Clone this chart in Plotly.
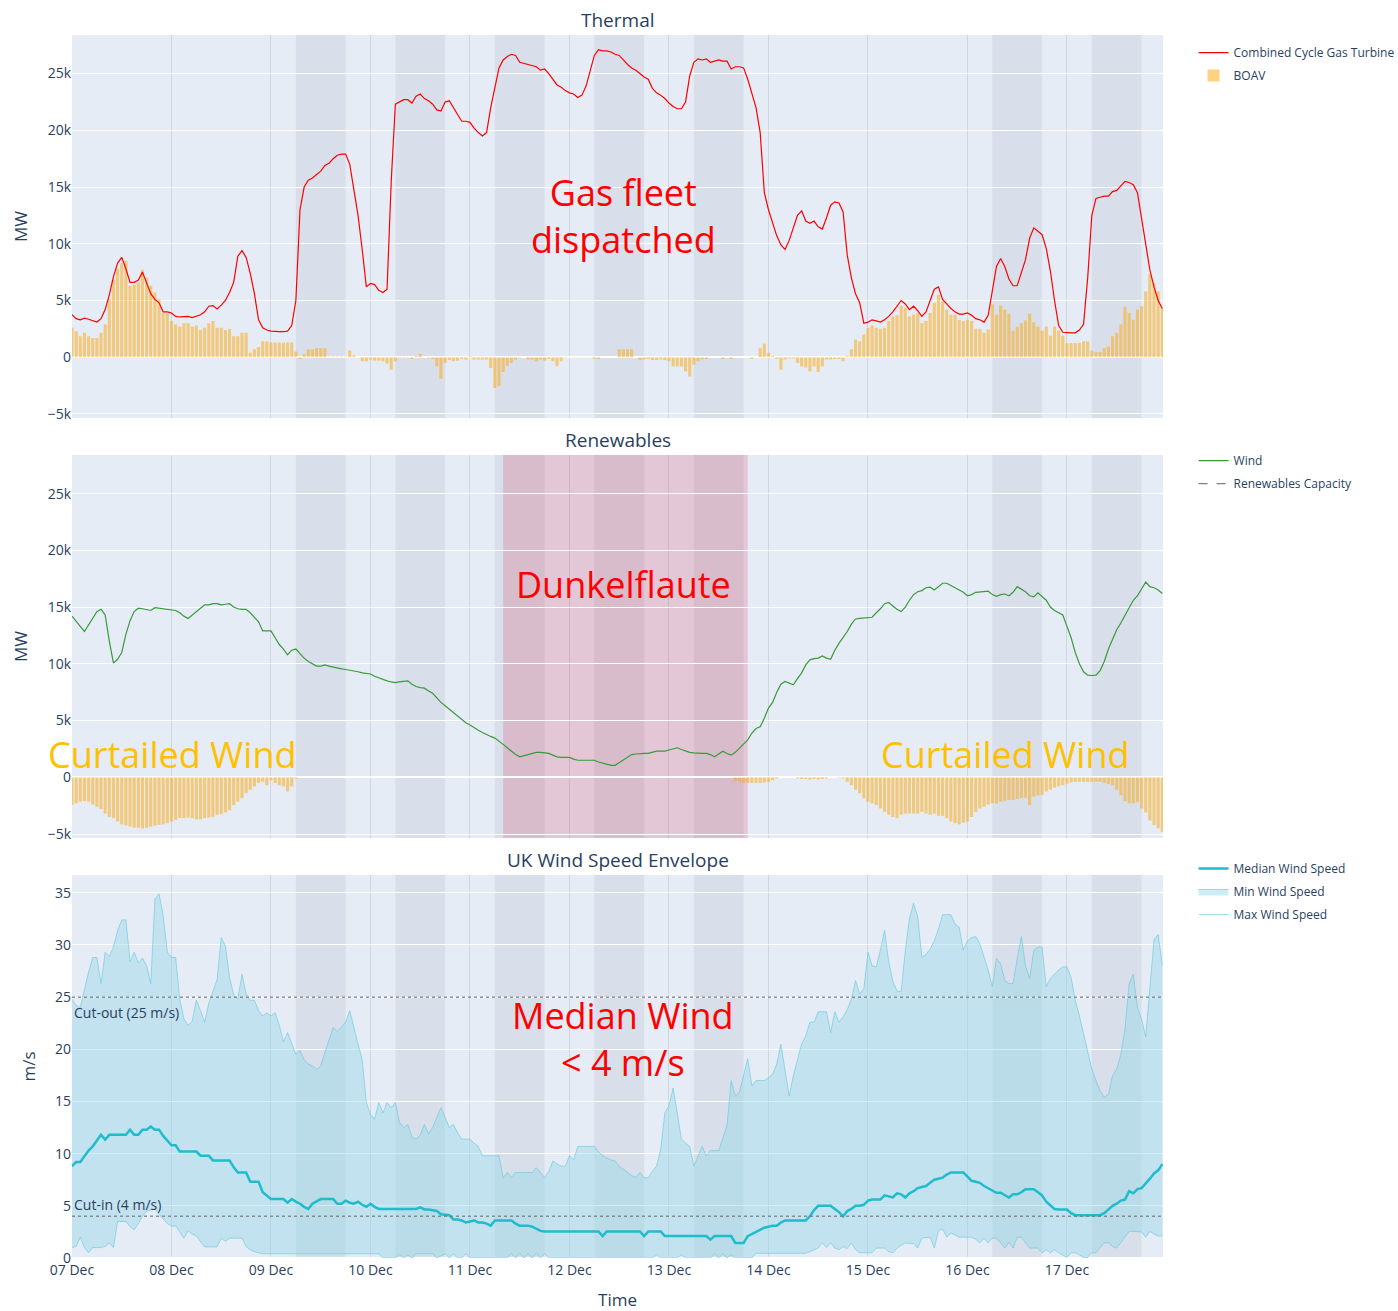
import pandas as pd
import plotly.graph_objects as go
from plotly.subplots import make_subplots

# hourly timestamps 07 Dec 00:00 .. 17 Dec 23:00 (264 points)
times = pd.date_range("2024-12-07 00:00", periods=264, freq="h")

# Combined Cycle Gas Turbine output (thousand MW)
ccgt_k = [
    3.76, 3.4, 3.3, 3.45, 3.35, 3.2, 3.1, 3.4, 4.2, 5.5,
    7.1, 8.3, 8.8, 7.8, 6.6, 6.6, 6.8, 7.5, 6.6, 5.6,
    5.1, 4.8, 4.0, 4.0, 3.9, 3.6, 3.55, 3.6, 3.6, 3.5,
    3.6, 3.75, 4.0, 4.5, 4.55, 4.25, 4.6, 5.0, 5.7, 6.6,
    8.9, 9.4, 8.8, 7.4, 5.6, 3.3, 2.6, 2.4, 2.3, 2.25,
    2.25, 2.25, 2.3, 2.8, 5.0, 13.0, 15.0, 15.6, 15.8, 16.1,
    16.4, 16.9, 17.1, 17.5, 17.8, 17.9, 17.9, 17.0, 14.9, 12.5,
    9.5, 6.2, 6.5, 6.4, 5.9, 5.7, 6.0, 15.5, 22.3, 22.5,
    22.7, 22.7, 22.4, 23.0, 23.2, 22.8, 22.6, 22.3, 21.8, 21.7,
    22.5, 22.6, 22.0, 21.5, 20.8, 20.8, 20.7, 20.2, 19.8, 19.5,
    19.8, 22.0, 23.9, 25.5, 26.2, 26.5, 26.7, 26.6, 26.0, 25.9,
    25.8, 25.7, 25.6, 25.3, 25.4, 25.0, 24.5, 24.0, 23.8, 23.5,
    23.3, 23.2, 22.9, 23.1, 23.9, 25.3, 26.6, 27.1, 27.0, 27.0,
    26.9, 26.7, 26.6, 26.2, 25.8, 25.5, 25.3, 25.0, 24.7, 24.5,
    23.7, 23.3, 23.1, 22.8, 22.4, 22.1, 21.9, 21.9, 22.5, 24.8,
    26.0, 26.3, 26.2, 26.3, 26.0, 26.1, 26.2, 26.1, 26.1, 25.4,
    25.6, 25.6, 25.5, 24.5, 23.2, 22.0, 19.8, 14.5, 13.0, 11.8,
    10.7, 9.9, 9.5, 10.3, 11.5, 12.5, 12.9, 12.0, 11.8, 12.0,
    11.5, 11.3, 12.3, 13.4, 13.7, 13.6, 12.8, 9.0, 7.0, 5.6,
    4.8, 3.0, 3.1, 3.3, 3.2, 3.1, 3.3, 3.6, 4.0, 4.5,
    5.0, 4.7, 4.2, 4.5, 4.1, 3.6, 4.0, 5.0, 6.0, 6.2,
    5.1, 4.7, 4.3, 4.0, 3.8, 3.8, 3.9, 3.7, 3.4, 3.3,
    3.1, 3.7, 5.8, 8.0, 8.7, 8.0, 6.9, 6.3, 6.3, 7.4,
    8.6, 10.5, 11.4, 11.1, 10.8, 9.6, 7.6, 5.0, 2.8, 2.2,
    2.15, 2.15, 2.15, 2.4, 2.9, 7.0, 12.5, 14.0, 14.1, 14.2,
    14.2, 14.6, 14.7, 15.1, 15.5, 15.4, 15.2, 14.5, 12.1, 9.8,
    7.7, 6.2, 5.0, 4.3,
]

# Bid-offer acceptance volumes, thermal panel (thousand MW)
boav_thermal_k = [
    2.6, 2.3, 1.85, 2.15, 1.85, 1.7, 1.7, 2.15, 2.9, 5.1,
    6.85, 7.8, 8.3, 8.5, 6.3, 6.4, 6.6, 7.7, 7.0, 6.3,
    5.7, 5.1, 3.9, 3.9, 3.2, 2.9, 2.7, 3.0, 3.0, 2.7,
    2.8, 2.4, 2.6, 3.0, 3.2, 2.6, 2.6, 2.4, 2.5, 1.85,
    1.85, 2.15, 2.15, 0.4, 0.7, 0.9, 1.4, 1.4, 1.3, 1.3,
    1.3, 1.3, 1.3, 1.3, 0.5, -0.15, 0.25, 0.7, 0.7, 0.8,
    0.8, 0.8, 0.05, 0.05, 0.05, 0.05, 0.05, 0.6, 0.15, 0.0,
    -0.35, -0.35, -0.2, -0.3, -0.3, -0.35, -0.55, -1.1, -0.35, -0.05,
    -0.05, -0.05, -0.15, 0.1, 0.3, 0.0, -0.05, -0.15, -0.8, -1.9,
    -0.5, -0.25, -0.35, -0.3, -0.15, -0.2, 0.1, -0.2, -0.2, -0.2,
    -0.2, -0.95, -2.7, -2.55, -1.3, -0.75, -0.5, -0.2, -0.05, 0.0,
    -0.2, -0.2, -0.35, -0.2, -0.3, -0.15, -0.35, -0.8, -0.35, -0.05,
    -0.02, -0.02, -0.02, -0.02, -0.02, -0.02, -0.15, -0.15, 0.0, 0.0,
    0.0, 0.0, 0.7, 0.7, 0.7, 0.7, 0.0, -0.25, -0.2, -0.15,
    -0.25, -0.25, -0.2, -0.25, -0.35, -0.8, -0.8, -0.8, -1.25, -1.7,
    -0.65, -0.35, -0.2, -0.15, 0.0, 0.0, 0.0, -0.15, 0.0, -0.15,
    0.0, 0.0, 0.0, 0.0, -0.15, 0.0, 0.8, 1.2, 0.4, 0.1,
    -0.15, -1.1, -0.2, -0.1, -0.1, -0.5, -0.8, -0.9, -1.25, -0.8,
    -1.3, -0.8, -0.2, -0.2, -0.15, -0.15, -0.35, 0.1, 0.7, 1.55,
    1.4, 2.0, 2.6, 2.8, 2.6, 2.5, 2.6, 3.2, 3.6, 3.7,
    4.55, 4.35, 3.6, 3.75, 3.9, 3.0, 3.2, 3.9, 4.8, 5.5,
    4.9, 4.2, 3.75, 3.75, 3.3, 3.2, 3.3, 3.2, 2.5, 2.5,
    2.15, 2.45, 4.65, 3.75, 4.55, 4.2, 3.85, 2.3, 2.7, 3.0,
    3.25, 3.85, 3.1, 2.7, 2.35, 2.7, 1.9, 2.7, 2.35, 1.9,
    1.25, 1.25, 1.25, 1.25, 1.4, 1.4, 0.6, 0.45, 0.45, 0.8,
    0.95, 1.85, 2.15, 2.9, 4.45, 3.9, 3.3, 4.2, 4.5, 5.8,
    7.3, 6.55, 5.8, 4.35,
]

# Wind generation (thousand MW)
wind_k = [
    14.2, 13.7, 13.3, 12.85, 13.4, 14.0, 14.6, 14.8, 14.3, 12.0,
    10.06, 10.4, 11.0, 12.6, 13.8, 14.6, 14.9, 14.85, 14.8, 14.7,
    14.95, 14.9, 14.85, 14.8, 14.8, 14.7, 14.5, 14.2, 14.0, 14.3,
    14.6, 14.9, 15.2, 15.2, 15.3, 15.3, 15.2, 15.25, 15.3, 15.0,
    14.85, 14.8, 14.8, 14.5, 14.1, 13.7, 12.9, 12.9, 12.9, 12.3,
    11.7, 11.3, 10.8, 11.2, 11.3, 10.9, 10.5, 10.2, 10.0, 9.8,
    9.8, 9.9, 9.8, 9.7, 9.6, 9.55, 9.5, 9.45, 9.4, 9.3,
    9.2, 9.15, 9.1, 8.9, 8.75, 8.6, 8.5, 8.4, 8.35, 8.4,
    8.45, 8.5, 8.2, 8.0, 7.9, 7.85, 7.6, 7.4, 7.0, 6.6,
    6.3, 6.0, 5.7, 5.4, 5.1, 4.8, 4.6, 4.35, 4.15, 3.95,
    3.75, 3.6, 3.45, 3.2, 2.9, 2.6, 2.3, 2.0, 1.8, 1.9,
    2.0, 2.1, 2.2, 2.2, 2.15, 2.1, 1.95, 1.8, 1.75, 1.75,
    1.75, 1.6, 1.5, 1.5, 1.5, 1.5, 1.5, 1.35, 1.25, 1.15,
    1.05, 1.05, 1.3, 1.5, 1.8, 2.0, 2.05, 2.1, 2.1, 2.1,
    2.2, 2.3, 2.3, 2.3, 2.4, 2.5, 2.6, 2.45, 2.3, 2.2,
    2.15, 2.1, 2.1, 2.1, 2.0, 1.8, 2.05, 2.3, 2.1, 1.95,
    2.2, 2.55, 2.9, 3.3, 3.9, 4.3, 4.45, 5.2, 6.1, 6.6,
    7.5, 8.2, 8.45, 8.3, 8.15, 8.7, 9.2, 9.9, 10.35, 10.45,
    10.5, 10.7, 10.5, 10.4, 11.2, 11.8, 12.3, 12.85, 13.5, 13.95,
    14.0, 14.05, 14.1, 14.1, 14.5, 14.85, 15.3, 15.4, 15.1, 14.8,
    14.6, 15.0, 15.6, 16.1, 16.35, 16.45, 16.7, 16.75, 16.5, 16.8,
    17.1, 17.1, 16.9, 16.75, 16.5, 16.3, 16.0, 16.1, 16.3, 16.35,
    16.4, 16.4, 16.1, 15.95, 16.1, 16.15, 16.0, 16.3, 16.8, 16.6,
    16.35, 16.0, 15.9, 16.25, 15.9, 15.6, 15.0, 14.7, 14.5, 14.3,
    13.3, 12.3, 11.0, 10.0, 9.3, 9.0, 8.97, 9.0, 9.4, 10.2,
    11.3, 12.2, 13.0, 13.6, 14.3, 15.0, 15.6, 16.0, 16.6, 17.2,
    16.8, 16.7, 16.5, 16.2,
]

# Bid-offer acceptance volumes on wind (curtailment, thousand MW)
boav_wind_k = [
    -2.45, -2.3, -2.15, -2.1, -2.15, -2.4, -2.6, -2.8, -3.2, -3.5,
    -3.6, -3.9, -4.15, -4.25, -4.35, -4.45, -4.45, -4.5, -4.45, -4.35,
    -4.25, -4.2, -4.15, -4.05, -3.9, -3.75, -3.6, -3.6, -3.55, -3.6,
    -3.7, -3.7, -3.6, -3.55, -3.5, -3.3, -3.25, -3.1, -2.9, -2.45,
    -2.15, -1.85, -1.4, -1.1, -0.8, -0.5, -0.4, -0.7, -0.25, -0.5,
    -0.7, -0.8, -1.25, -0.8, -0.1, 0, 0, 0, 0, 0,
    0, 0, 0, 0, 0, 0, 0, 0, 0, 0,
    0, 0, 0, 0, 0, 0, 0, 0, 0, 0,
    0, 0, 0, 0, 0, 0, 0, 0, 0, 0,
    0, 0, 0, 0, 0, 0, 0, 0, 0, 0,
    0, 0, 0, 0, 0, 0, 0, 0, 0, 0,
    0, 0, 0, 0, 0, 0, 0, 0, 0, 0,
    0, 0, 0, 0, 0, 0, 0, 0, 0, 0,
    0, 0, 0, 0, 0, 0, 0, 0, 0, 0,
    0, 0, 0, 0, 0, 0, 0, 0, 0, 0,
    0, 0, 0, 0, 0, 0, 0, 0, 0, 0,
    -0.3, -0.4, -0.5, -0.5, -0.5, -0.5, -0.5, -0.45, -0.4, -0.25,
    -0.1, 0, 0, 0, 0, -0.1, -0.15, -0.15, -0.2, -0.15,
    -0.2, -0.15, -0.1, 0, 0, -0.05, -0.1, -0.4, -0.7, -1.1,
    -1.4, -1.85, -2.15, -2.3, -2.45, -2.75, -3.05, -3.3, -3.5, -3.6,
    -3.3, -3.2, -3.2, -3.2, -3.2, -3.05, -3.2, -3.3, -3.2, -3.4,
    -3.4, -3.6, -3.9, -4.05, -4.15, -4.0, -3.9, -3.5, -3.05, -2.75,
    -2.6, -2.4, -2.3, -2.3, -2.15, -2.1, -2.0, -2.0, -1.9, -1.85,
    -1.8, -2.45, -1.7, -1.6, -1.55, -1.25, -1.1, -0.9, -0.8, -0.7,
    -0.55, -0.45, -0.4, -0.4, -0.4, -0.4, -0.4, -0.4, -0.4, -0.5,
    -0.6, -0.7, -1.1, -1.6, -2.1, -2.3, -2.3, -2.2, -2.75, -3.1,
    -3.8, -4.2, -4.5, -4.8,
]

# Renewables capacity (MW), start and end of the period
capacity_times = ["2024-12-07 00:00", "2024-12-17 23:00"]
renewables_capacity = [31500, 31500]

# UK wind speed envelope (m/s)
median_wind = [
    8.8, 9.2, 9.2, 9.8, 10.3, 10.7, 11.2, 11.8, 11.35, 11.8,
    11.8, 11.8, 11.8, 11.8, 12.3, 11.8, 11.8, 12.3, 12.3, 12.6,
    12.3, 12.3, 11.7, 11.2, 10.8, 10.8, 10.2, 10.2, 10.2, 10.2,
    10.2, 9.8, 9.8, 9.8, 9.35, 9.35, 9.35, 9.35, 9.35, 8.7,
    8.2, 8.2, 8.2, 7.3, 7.3, 7.3, 6.3, 6.0, 5.65, 5.65,
    5.65, 5.65, 5.3, 5.65, 5.4, 5.2, 4.9, 4.7, 5.2, 5.4,
    5.65, 5.65, 5.65, 5.65, 5.2, 5.2, 5.5, 5.3, 5.2, 5.4,
    5.1, 4.9, 5.2, 4.9, 4.7, 4.7, 4.7, 4.7, 4.7, 4.7,
    4.7, 4.7, 4.7, 4.7, 4.85, 4.65, 4.65, 4.6, 4.5, 4.2,
    4.15, 4.1, 3.7, 3.7, 3.6, 3.4, 3.5, 3.6, 3.4, 3.4,
    3.3, 3.1, 3.6, 3.6, 3.6, 3.6, 3.6, 3.3, 3.1, 3.1,
    3.1, 3.0, 2.8, 2.6, 2.55, 2.55, 2.55, 2.55, 2.55, 2.55,
    2.55, 2.55, 2.55, 2.55, 2.55, 2.55, 2.55, 2.55, 2.1, 2.55,
    2.55, 2.55, 2.55, 2.55, 2.55, 2.55, 2.55, 2.55, 2.1, 2.55,
    2.55, 2.55, 2.55, 2.1, 2.1, 2.1, 2.1, 2.1, 2.1, 2.1,
    2.1, 2.1, 2.1, 2.1, 1.76, 2.1, 2.1, 2.1, 2.1, 2.1,
    1.44, 1.44, 1.44, 2.1, 2.3, 2.55, 2.75, 2.9, 3.0, 3.1,
    3.1, 3.4, 3.6, 3.6, 3.6, 3.6, 3.6, 3.6, 4.0, 4.6,
    5.0, 5.0, 5.0, 5.0, 4.7, 4.4, 4.0, 4.5, 4.7, 5.0,
    5.0, 5.1, 5.5, 5.6, 5.6, 5.6, 6.0, 5.9, 5.8, 6.2,
    6.1, 5.8, 6.2, 6.4, 6.7, 6.8, 6.9, 7.2, 7.5, 7.6,
    7.7, 8.0, 8.2, 8.2, 8.2, 8.2, 7.8, 7.4, 7.3, 7.2,
    6.9, 6.7, 6.5, 6.25, 6.25, 6.0, 5.8, 6.1, 6.1, 6.3,
    6.6, 6.6, 6.6, 6.3, 6.0, 5.4, 5.0, 4.7, 4.65, 4.65,
    4.65, 4.3, 4.1, 4.1, 4.1, 4.1, 4.1, 4.1, 4.1, 4.3,
    4.7, 5.0, 5.2, 5.5, 5.6, 6.4, 6.2, 6.6, 6.7, 7.1,
    7.6, 8.1, 8.4, 9.0,
]

min_wind = [
    1.0, 1.1, 2.0, 1.0, 0.5, 1.0, 1.0, 1.0, 1.1, 1.45,
    1.0, 3.5, 3.5, 3.5, 3.0, 2.7, 3.3, 4.0, 4.5, 4.6,
    4.7, 4.2, 3.7, 3.3, 3.06, 3.06, 2.5, 1.9, 2.6, 2.3,
    2.1, 1.6, 1.06, 1.06, 1.06, 1.06, 1.9, 1.6, 1.9, 1.9,
    1.9, 1.9, 1.1, 0.8, 0.6, 0.5, 0.4, 0.4, 0.4, 0.4,
    0.4, 0.4, 0.4, 0.4, 0.4, 0.4, 0.4, 0.4, 0.4, 0.4,
    0.4, 0.4, 0.4, 0.4, 0.4, 0.4, 0.4, 0.4, 0.4, 0.4,
    0.4, 0.4, 0.4, 0.4, 0.4, 0.0, 0.0, 0.0, 0.0, 0.3,
    0.0, 0.3, 0.0, 0.4, 0.4, 0.4, 0.4, 0.4, 0.0, 0.2,
    0.4, 0.0, 0.4, 0.0, 0.0, 0.4, 0.0, 0.0, 0.0, 0.0,
    0.0, 0.0, 0.0, 0.0, 0.0, 0.0, 0.4, 0.0, 0.4, 0.0,
    0.4, 0.0, 0.4, 0.0, 0.4, 0.0, 0.0, 0.0, 0.0, 0.0,
    0.0, 0.0, 0.0, 0.0, 0.0, 0.0, 0.0, 0.0, 0.0, 0.0,
    0.0, 0.0, 0.0, 0.0, 0.0, 0.0, 0.0, 0.0, 0.0, 0.0,
    0.0, 0.3, 0.0, 0.0, 0.0, 0.0, 0.0, 0.3, 0.0, 0.0,
    0.0, 0.0, 0.0, 0.0, 0.0, 0.4, 0.0, 0.4, 0.0, 0.3,
    0.0, 0.0, 0.0, 0.0, 0.0, 0.45, 0.45, 0.45, 0.45, 0.45,
    0.45, 0.45, 0.45, 0.45, 0.45, 0.45, 0.45, 0.45, 0.6, 0.8,
    0.95, 1.45, 1.0, 1.45, 0.95, 0.8, 1.1, 0.9, 1.45, 0.8,
    0.5, 0.5, 0.5, 0.5, 0.95, 0.95, 0.95, 0.6, 0.5, 0.95,
    1.2, 1.45, 1.4, 1.4, 0.95, 1.9, 1.95, 2.0, 0.95, 2.6,
    2.8, 2.0, 2.4, 2.2, 2.0, 2.0, 2.0, 2.0, 1.8, 1.45,
    1.9, 1.45, 1.9, 1.9, 1.45, 0.95, 1.5, 0.95, 2.0, 2.0,
    1.45, 0.95, 0.95, 0.95, 0.5, 0.8, 0.5, 0.8, 0.5, 0.3,
    0.05, 0.5, 0.5, 0.3, 0.05, 0.05, 0.5, 0.5, 0.95, 1.45,
    1.45, 1.1, 0.95, 1.45, 2.0, 2.55, 2.55, 2.55, 2.5, 2.0,
    2.55, 2.3, 2.1, 2.1,
]

max_wind = [
    24.8, 24.2, 24.0, 25.8, 27.4, 28.8, 28.8, 26.3, 29.3, 28.9,
    29.8, 31.4, 32.4, 32.4, 28.4, 29.3, 28.3, 28.75, 28.0, 26.3,
    34.4, 34.9, 32.8, 29.3, 28.8, 28.8, 24.8, 22.9, 22.3, 22.7,
    24.7, 23.7, 22.6, 24.4, 25.5, 26.7, 30.7, 29.9, 26.9, 25.2,
    24.8, 27.2, 25.3, 24.7, 24.7, 23.7, 23.2, 23.5, 23.2, 23.5,
    22.3, 20.7, 21.6, 20.5, 19.5, 19.9, 19.0, 18.6, 18.4, 18.1,
    18.4, 19.7, 21.0, 22.1, 21.7, 22.1, 22.6, 23.7, 21.95, 20.5,
    19.0, 14.9, 13.75, 13.3, 14.9, 13.9, 14.9, 14.4, 14.9, 13.0,
    12.5, 12.8, 11.6, 11.4, 11.8, 12.8, 11.9, 12.5, 13.5, 14.4,
    13.5, 12.5, 12.8, 12.0, 11.4, 11.4, 11.4, 11.0, 10.7, 9.8,
    9.8, 9.8, 9.8, 9.8, 7.7, 8.2, 7.7, 8.2, 8.2, 8.2,
    8.2, 8.2, 8.65, 8.2, 7.7, 8.3, 9.3, 9.0, 8.8, 8.8,
    9.8, 9.4, 10.7, 10.7, 10.7, 10.7, 10.7, 10.2, 9.8, 9.6,
    9.4, 9.3, 8.8, 8.5, 8.2, 7.9, 7.7, 8.2, 7.7, 7.7,
    8.3, 8.8, 10.4, 13.9, 14.6, 16.3, 13.9, 11.4, 11.0, 10.7,
    8.8, 9.8, 10.7, 9.8, 10.3, 10.3, 10.3, 11.5, 12.7, 17.0,
    15.5, 15.9, 17.5, 19.1, 16.5, 17.0, 17.0, 17.0, 17.3, 17.6,
    18.6, 20.5, 18.0, 15.5, 17.5, 19.1, 20.5, 21.3, 22.6, 22.6,
    23.6, 23.6, 23.6, 21.6, 23.6, 22.6, 23.1, 23.8, 24.8, 26.6,
    25.3, 25.8, 29.3, 28.0, 27.9, 29.5, 31.4, 28.4, 26.5, 25.6,
    25.5, 29.4, 32.5, 34.0, 32.7, 28.8, 29.1, 29.6, 30.4, 31.5,
    32.9, 32.9, 32.9, 32.0, 31.7, 29.5, 30.4, 30.7, 30.8, 30.1,
    28.8, 27.6, 26.0, 28.7, 28.2, 26.6, 26.3, 26.3, 28.7, 30.8,
    28.0, 26.8, 29.5, 29.8, 29.8, 26.0, 26.8, 27.2, 27.6, 27.9,
    27.9, 26.9, 24.7, 23.2, 21.5, 19.6, 18.1, 17.0, 16.0, 15.4,
    15.7, 17.5, 18.1, 19.5, 22.0, 26.3, 27.2, 24.0, 22.9, 21.2,
    26.0, 30.5, 31.0, 28.0,
]

# shaded working-day periods and the Dunkelflaute window
shade_days = ["2024-12-09", "2024-12-10", "2024-12-11", "2024-12-12",
              "2024-12-13", "2024-12-16", "2024-12-17"]
dunkelflaute = ("2024-12-11 08:00", "2024-12-13 19:00")
cut_out_speed = 25
cut_in_speed = 4

for name, arr in [("ccgt", ccgt_k), ("boav_t", boav_thermal_k), ("wind", wind_k),
                  ("boav_w", boav_wind_k), ("med", median_wind), ("min", min_wind),
                  ("max", max_wind)]:
    assert len(arr) == len(times), (name, len(arr))

ccgt = [v * 1000 for v in ccgt_k]
boav_thermal = [v * 1000 for v in boav_thermal_k]
wind = [v * 1000 for v in wind_k]
boav_wind = [v * 1000 for v in boav_wind_k]

fig = make_subplots(rows=3, cols=1, shared_xaxes=True, vertical_spacing=0.0303,
                    subplot_titles=("Thermal", "Renewables", "UK Wind Speed Envelope"))

BOAV_COLOR = "rgba(255,165,0,0.5)"
ENVELOPE_LINE = "rgba(100,200,220,0.6)"

# --- Thermal ---
fig.add_trace(go.Scatter(x=times, y=ccgt, name="Combined Cycle Gas Turbine", mode="lines",
                         line=dict(color="red", width=1.2), legend="legend",
                         legendgroup="ccgt"), row=1, col=1)
fig.add_trace(go.Bar(x=times, y=boav_thermal, name="BOAV", marker_color=BOAV_COLOR,
                     marker_line_width=0, legend="legend", legendgroup="boav"), row=1, col=1)

# --- Renewables ---
fig.add_trace(go.Scatter(x=times, y=wind, name="Wind", mode="lines",
                         line=dict(color="#3a9a3a", width=1.2), legend="legend2",
                         legendgroup="wind"), row=2, col=1)
fig.add_trace(go.Scatter(x=capacity_times, y=renewables_capacity, name="Renewables Capacity",
                         mode="lines", line=dict(color="gray", width=1.2, dash="dash"),
                         legend="legend2", legendgroup="cap"), row=2, col=1)
fig.add_trace(go.Bar(x=times, y=boav_wind, name="BOAV", marker_color=BOAV_COLOR,
                     marker_line_width=0, showlegend=False), row=2, col=1)

# --- Wind speed envelope ---
# median goes on an overlaying y axis so it is drawn above the envelope fill
fig.add_trace(go.Scatter(x=times, y=median_wind, name="Median Wind Speed", mode="lines",
                         line=dict(color="#1fbccc", width=2.5), xaxis="x3", yaxis="y4",
                         legend="legend3", legendgroup="med"))
# upper boundary of the envelope fill (line itself not drawn)
fig.add_trace(go.Scatter(x=times, y=max_wind, mode="lines", line=dict(width=0),
                         showlegend=False, hoverinfo="skip"), row=3, col=1)
fig.add_trace(go.Scatter(x=times, y=min_wind, name="Min Wind Speed", mode="lines",
                         line=dict(color=ENVELOPE_LINE, width=1),
                         fill="tonexty", fillcolor="rgba(150,215,230,0.45)",
                         legend="legend3", legendgroup="min"), row=3, col=1)
fig.add_trace(go.Scatter(x=times, y=max_wind, name="Max Wind Speed", mode="lines",
                         line=dict(color=ENVELOPE_LINE, width=1),
                         legend="legend3", legendgroup="max"), row=3, col=1)

for d in shade_days:
    fig.add_vrect(x0=d + " 06:00", x1=d + " 18:00", fillcolor="rgba(120,130,150,0.12)",
                  line_width=0, layer="below", row="all", col=1)
fig.add_vrect(x0=dunkelflaute[0], x1=dunkelflaute[1], fillcolor="rgba(220,20,60,0.17)",
              line_width=0, layer="below", row=2, col=1)

fig.add_hline(y=cut_out_speed, line=dict(color="rgba(120,120,120,0.8)", width=1.5, dash="dot"),
              row=3, col=1, annotation_text="Cut-out (25 m/s)",
              annotation_position="bottom left", annotation_font_size=14,
              annotation_yshift=-4)
fig.add_hline(y=cut_in_speed, line=dict(color="rgba(120,120,120,0.8)", width=1.5, dash="dot"),
              row=3, col=1, annotation_text="Cut-in (4 m/s)",
              annotation_position="top left", annotation_font_size=14)

BIG = dict(family="Open Sans, sans-serif", size=36)
fig.add_annotation(x="2024-12-12 13:00", y=12450, xref="x", yref="y", showarrow=False,
                   text="Gas fleet<br>dispatched", font=dict(color="red", **BIG))
fig.add_annotation(x="2024-12-12 13:00", y=17000, xref="x2", yref="y2", showarrow=False,
                   text="Dunkelflaute", font=dict(color="red", **BIG))
fig.add_annotation(x="2024-12-08 00:15", y=2000, xref="x2", yref="y2", showarrow=False,
                   text="Curtailed Wind", font=dict(color="#FFC000", **BIG))
fig.add_annotation(x="2024-12-16 09:06", y=2000, xref="x2", yref="y2", showarrow=False,
                   text="Curtailed Wind", font=dict(color="#FFC000", **BIG))
fig.add_annotation(x="2024-12-12 13:00", y=21.0, xref="x3", yref="y3", showarrow=False,
                   text="Median Wind<br>< 4 m/s", font=dict(color="red", **BIG))

for ann in fig.layout.annotations:
    if ann.text in ("Thermal", "Renewables", "UK Wind Speed Envelope"):
        ann.font.size = 19

fig.update_xaxes(range=["2024-12-07 00:00", "2024-12-17 23:10"], dtick=86400000,
                 tickformat="%d %b", gridcolor="rgba(0,0,0,0.09)", showline=False)
fig.update_xaxes(title_text="Time", title_standoff=20, ticklabelstandoff=2,
                 automargin=False, row=3, col=1)
fig.update_yaxes(range=[-5350, 28400], title_text="MW", row=1, col=1)
fig.update_yaxes(range=[-5350, 28400], title_text="MW", row=2, col=1)
fig.update_yaxes(range=[0, 36.7], title_text="m/s", row=3, col=1)

legend_common = dict(x=1.028, xanchor="left", yanchor="top", font=dict(size=12),
                     bgcolor="rgba(0,0,0,0)", tracegroupgap=4)
fig.update_layout(
    template="plotly",
    width=1398, height=1311,
    margin=dict(l=72, r=235, t=35, b=53, autoexpand=False),
    font=dict(size=14),
    bargap=0.25,
    yaxis4=dict(overlaying="y3", anchor="x3", range=[0, 36.7], visible=False,
                showgrid=False, zeroline=False),
    legend=dict(y=0.9975, **legend_common),
    legend2=dict(y=0.6639, **legend_common),
    legend3=dict(y=0.3303, **legend_common),
)

fig.write_html("out.html", config={"displayModeBar": False},
               post_script="document.body.style.margin='0px';")
